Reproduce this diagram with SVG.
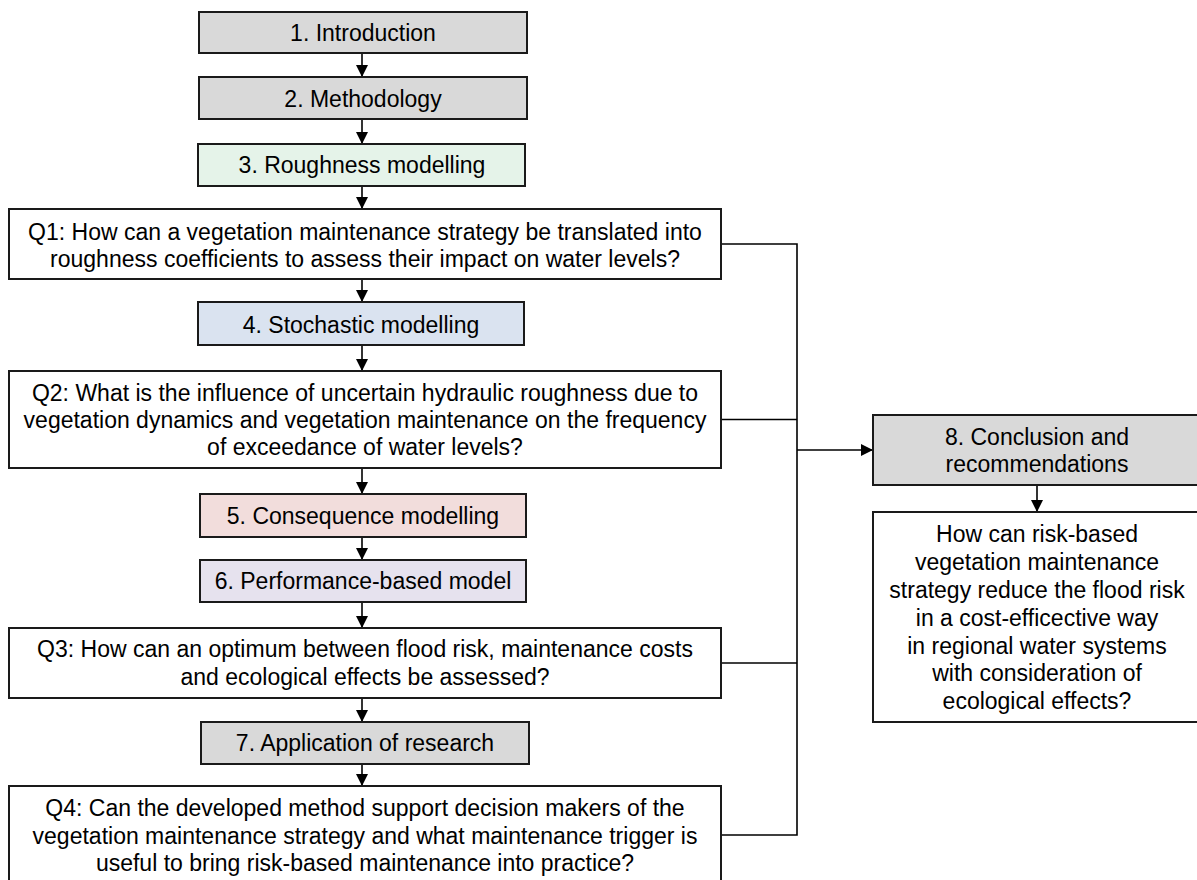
<svg xmlns="http://www.w3.org/2000/svg" width="1197" height="880" viewBox="0 0 1197 880">
<defs>
<style>
.box{stroke:#1a1a1a;stroke-width:2}
.gray{fill:#D9D9D9}
.white{fill:#FFFFFF}
.green{fill:#E5F3E9}
.blue{fill:#DAE3F0}
.pink{fill:#F2DDDC}
.lav{fill:#E6E2EE}
text{font-family:"Liberation Sans",Arial,sans-serif;font-size:23px;fill:#000;text-anchor:middle}
.con{stroke:#000;stroke-width:1.6;fill:none}
</style>
<marker id="ah" markerUnits="userSpaceOnUse" markerWidth="12" markerHeight="12" refX="12" refY="6" orient="auto">
<path d="M0,0 L12,6 L0,12 z" fill="#000"/>
</marker>
</defs>
<rect width="1197" height="880" fill="#fff"/>
<g id="connectors">
<line class="con" x1="362" y1="53" x2="362" y2="77" marker-end="url(#ah)"/>
<line class="con" x1="362" y1="119" x2="362" y2="144" marker-end="url(#ah)"/>
<line class="con" x1="362" y1="186" x2="362" y2="209" marker-end="url(#ah)"/>
<line class="con" x1="362" y1="279" x2="362" y2="302" marker-end="url(#ah)"/>
<line class="con" x1="362" y1="345" x2="362" y2="371" marker-end="url(#ah)"/>
<line class="con" x1="362" y1="468" x2="362" y2="494" marker-end="url(#ah)"/>
<line class="con" x1="362" y1="537" x2="362" y2="560" marker-end="url(#ah)"/>
<line class="con" x1="362" y1="602" x2="362" y2="628" marker-end="url(#ah)"/>
<line class="con" x1="362" y1="698" x2="362" y2="722" marker-end="url(#ah)"/>
<line class="con" x1="362" y1="764" x2="362" y2="786" marker-end="url(#ah)"/>
<polyline class="con" points="721,244 797,244 797,835 721,835"/>
<line class="con" x1="721" y1="419.5" x2="797" y2="419.5"/>
<line class="con" x1="721" y1="663" x2="797" y2="663"/>
<line class="con" x1="797" y1="450" x2="873" y2="450" marker-end="url(#ah)"/>
<line class="con" x1="1037" y1="485" x2="1037" y2="512" marker-end="url(#ah)"/>
</g>
<g id="n1"><rect class="box gray" x="199" y="12" width="328" height="41"/><text x="363" y="41">1. Introduction</text></g>
<g id="n2"><rect class="box gray" x="199" y="77" width="328" height="42"/><text x="363" y="107">2. Methodology</text></g>
<g id="n3"><rect class="box green" x="198" y="144" width="327" height="42"/><text x="362" y="173">3. Roughness modelling</text></g>
<g id="q1"><rect class="box white" x="9" y="209" width="712" height="70"/>
<text x="365" y="240">Q1: How can a vegetation maintenance strategy be translated into</text>
<text x="365" y="267">roughness coefficients to assess their impact on water levels?</text></g>
<g id="n4"><rect class="box blue" x="198" y="302" width="326" height="43"/><text x="361" y="333">4. Stochastic modelling</text></g>
<g id="q2"><rect class="box white" x="9" y="371" width="712" height="97"/>
<text x="365" y="401">Q2: What is the influence of uncertain hydraulic roughness due to</text>
<text x="365" y="428">vegetation dynamics and vegetation maintenance on the frequency</text>
<text x="365" y="455">of exceedance of water levels?</text></g>
<g id="n5"><rect class="box pink" x="200" y="494" width="326" height="43"/><text x="363" y="524">5. Consequence modelling</text></g>
<g id="n6"><rect class="box lav" x="200" y="560" width="326" height="42"/><text x="363" y="589">6. Performance-based model</text></g>
<g id="q3"><rect class="box white" x="9" y="628" width="712" height="70"/>
<text x="365" y="657">Q3: How can an optimum between flood risk, maintenance costs</text>
<text x="365" y="685">and ecological effects be assessed?</text></g>
<g id="n7"><rect class="box gray" x="201" y="722" width="328" height="42"/><text x="365" y="751">7. Application of research</text></g>
<g id="q4"><rect class="box white" x="9" y="786" width="712" height="100"/>
<text x="365" y="816">Q4: Can the developed method support decision makers of the</text>
<text x="365" y="844">vegetation maintenance strategy and what maintenance trigger is</text>
<text x="365" y="871">useful to bring risk-based maintenance into practice?</text></g>
<g id="n8"><rect class="box gray" x="873" y="415" width="330" height="70"/>
<text x="1037" y="445">8. Conclusion and</text>
<text x="1037" y="472">recommendations</text></g>
<g id="q5"><rect class="box white" x="873" y="512" width="330" height="210"/>
<text x="1037" y="542">How can risk-based</text>
<text x="1037" y="570">vegetation maintenance</text>
<text x="1037" y="598">strategy reduce the flood risk</text>
<text x="1037" y="626">in a cost-efficective way</text>
<text x="1037" y="654">in regional water systems</text>
<text x="1037" y="681">with consideration of</text>
<text x="1037" y="709">ecological effects?</text></g>
</svg>
